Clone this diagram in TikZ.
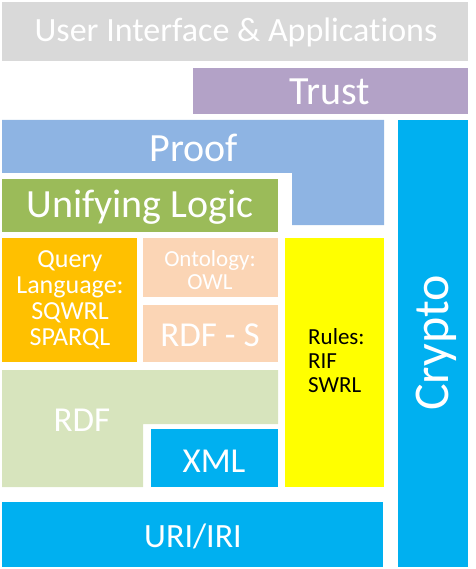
\documentclass[tikz,border=0pt]{standalone}
\usepackage{fontspec}
\setmainfont[Ligatures=NoCommon]{Carlito}
\definecolor{uigray}{HTML}{D9D9D9}
\definecolor{trustc}{HTML}{B3A2C7}
\definecolor{proofc}{HTML}{8EB4E3}
\definecolor{logicc}{HTML}{9BBB59}
\definecolor{queryc}{HTML}{FFC000}
\definecolor{ontoc}{HTML}{FBD5B5}
\definecolor{rulesc}{HTML}{FFFF00}
\definecolor{rdfc}{HTML}{D7E4BD}
\definecolor{bluec}{HTML}{00B0F0}
\begin{document}
\begin{tikzpicture}[x=1pt,y=-1pt,
  lbl/.style={text=white, inner sep=0pt, align=center}]
\useasboundingbox (0,0) rectangle (475,569);
% shapes
\fill[uigray] (2,2) rectangle (468,61);
\fill[trustc] (193,68) rectangle (468,114);
\fill[proofc] (2,120) -- (384,120) -- (384,225) -- (292,225) -- (292,173) -- (2,173) -- cycle;
\fill[bluec] (398,120) rectangle (468,567);
\fill[logicc] (2,179) rectangle (278,232);
\fill[queryc] (2,238) rectangle (137,362);
\fill[ontoc] (143,238) rectangle (278,297);
\fill[ontoc] (143,305) rectangle (278,362);
\fill[rulesc] (285,238) rectangle (384,487);
\fill[rdfc] (2,370) -- (278,370) -- (278,424) -- (143,424) -- (143,487) -- (2,487) -- cycle;
\fill[bluec] (151,429) rectangle (278,487);
\fill[bluec] (2,502) rectangle (383,567);
% labels
\node[lbl, font=\fontsize{34}{38}\selectfont] (ui) at (236,32) {User Interface \& Applications};
\node[lbl, font=\fontsize{40}{44}\selectfont] (trust) at (330,92) {Trust};
\node[lbl, font=\fontsize{40}{44}\selectfont] (proof) at (194,148) {Proof};
\node[lbl, font=\fontsize{40}{44}\selectfont] (logic) at (140,207) {Unifying Logic};
\node[lbl, font=\fontsize{26}{26}\selectfont] (query) at (70,300) {Query\\Language:\\SQWRL\\SPARQL};
\node[lbl, font=\fontsize{23}{23}\selectfont] (onto) at (210,270) {Ontology:\\OWL};
\node[lbl, font=\fontsize{35}{38}\selectfont] (rdfs) at (210,335) {RDF - S};
\node[lbl, text=black, align=left, anchor=west, font=\fontsize{23}{24}\selectfont] (rules) at (308,361) {Rules:\\RIF\\SWRL};
\node[lbl, font=\fontsize{35}{38}\selectfont] (rdf) at (82,420) {RDF};
\node[lbl, font=\fontsize{35}{38}\selectfont] (xml) at (214,461) {XML};
\node[lbl, font=\fontsize{34}{38}\selectfont] (uri) at (193,536) {URI/IRI};
\node[lbl, rotate=90, font=\fontsize{50}{54}\selectfont] (crypto) at (436,343) {Crypto};
\end{tikzpicture}
\end{document}
